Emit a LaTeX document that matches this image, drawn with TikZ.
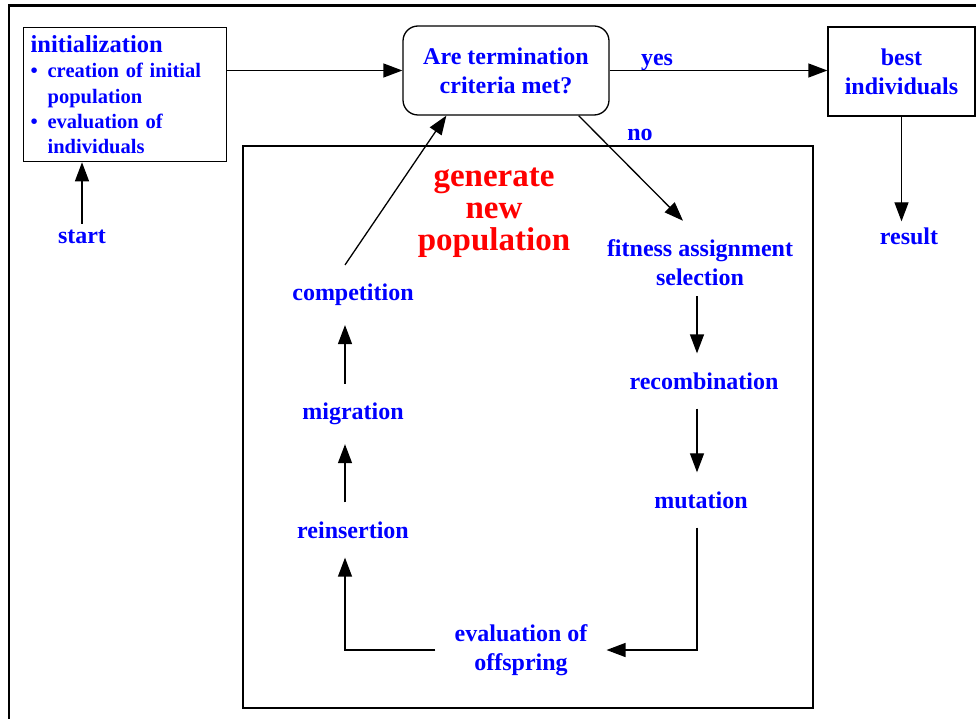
\documentclass[tikz,border=0pt]{standalone}
\usepackage{fontspec}
\setmainfont{Liberation Serif}
\usetikzlibrary{arrows.meta,positioning}

\tikzset{
  lbl/.style = {text=blue, font=\bfseries\fontsize{24}{29}\selectfont, align=center, inner sep=19pt},
  boxed/.style = {draw, line width=1.3pt, text=blue, font=\bfseries\fontsize{24}{29}\selectfont, align=center},
  arr/.style = {-{Triangle[length=19pt,width=14pt]}, line width=1.3pt},
  plain/.style = {line width=1.3pt},
}
\newcommand{\bulletitem}{\makebox[17pt][l]{\textbullet}}
\newcommand{\bulletgap}{\hspace*{17pt}}

\begin{document}
\begin{tikzpicture}[x=1pt,y=-1pt]
\useasboundingbox (0,0) rectangle (976,719);

% frames
\draw[line width=2.2pt] (9,719) -- (9,5.5) -- (976,5.5);
\draw[plain] (243,146) rectangle (813,708);

% boxes
\node[boxed, anchor=north west, text width=189pt, align=left, inner xsep=7pt, inner ysep=2pt, minimum height=134pt,
      font=\bfseries\fontsize{20.5}{25.3}\selectfont] (init) at (23,27)
  {{\fontsize{24.5}{25.3}\selectfont initialization}\\
   \bulletitem creation of initial\\
   \bulletgap population\\
   \bulletitem evaluation of\\
   \bulletgap individuals};
\node[boxed, rounded corners=15pt, minimum width=206pt, minimum height=89pt] (ask) at (506,70.5) {Are termination\\criteria met?};
\node[boxed, minimum width=147pt, minimum height=89pt] (best) at (901.5,71.5) {best\\individuals};

% labels
\node[lbl, inner sep=6pt] (start) at (82,237) {start};
\node[lbl, inner sep=6pt] (result) at (909,236) {result};
\node[lbl, inner sep=3pt] (yes) at (657,62) {yes};
\node[lbl, inner sep=3pt] (no) at (640,135) {no};
\node[text=red, font=\bfseries\fontsize{33}{32}\selectfont, align=center] (gen) at (494,213) {generate\\new\\population};

\node[lbl, inner ysep=10pt] (fit) at (700,263) {fitness assignment\\selection};
\node[lbl] (recomb) at (704,381) {recombination};
\node[lbl] (mut) at (701,500) {mutation};
\node[lbl] (evalo) at (521,650) {evaluation of\\offspring};
\node[lbl] (reins) at (353,530) {reinsertion};
\node[lbl] (migr) at (353,414) {migration};
\node[lbl] (comp) at (353,295) {competition};

% connectors
\draw[arr] (start.north) -- (start.north |- init.south);
\draw[arr] (init.east |- ask.west) -- (ask.west);
\draw[arr] (ask.east) -- (best.west |- ask.east);
\draw[arr] (best.south) -- (best.south |- result.north);
\draw[arr] ([xshift=-31pt]ask.south east) -- ([xshift=-17pt,yshift=9pt]fit.north);
\draw[arr] ([xshift=-3pt]fit.south) -- ([xshift=-7pt]recomb.north);
\draw[arr] ([xshift=-7pt]recomb.south) -- ([xshift=-4pt]mut.north);
\draw[arr] ([xshift=-4pt]mut.south) |- (evalo.east);
\draw[arr] (evalo.west) -| ([xshift=-8pt]reins.south);
\draw[arr] ([xshift=-8pt]reins.north) -- ([xshift=-8pt]migr.south);
\draw[arr] ([xshift=-8pt]migr.north) -- ([xshift=-8pt]comp.south);
\draw[arr] ([xshift=-8pt]comp.north) -- ([xshift=44pt]ask.south west);
\end{tikzpicture}
\end{document}
